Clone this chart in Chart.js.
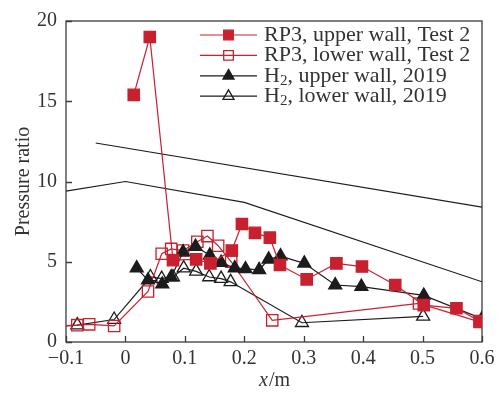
<!DOCTYPE html>
<html>
<head>
<meta charset="utf-8">
<script src="https://cdn.jsdelivr.net/npm/chart.js@4/dist/chart.umd.min.js"></script>
<style>
  html, body { margin: 0; padding: 0; background: #fff; }
  #wrap { width: 502px; height: 394px; }
</style>
</head>
<body>
<div id="wrap"><canvas id="pressureChart" width="502" height="394"></canvas></div>
<script>
// datos
const rp3UpperX = [0.014, 0.041, 0.080, 0.119, 0.143, 0.179, 0.196, 0.218, 0.243, 0.260, 0.305, 0.355, 0.398, 0.454, 0.502, 0.557, 0.596];
const rp3UpperY = [15.4, 19.0, 5.1, 5.15, 4.9, 5.7, 7.35, 6.8, 6.5, 4.8, 3.9, 4.9, 4.7, 3.55, 2.3, 2.1, 1.3];

const rp3LowerX = [-0.12, -0.081, -0.061, -0.019, 0.038, 0.061, 0.077, 0.097, 0.121, 0.138, 0.156, 0.178, 0.247, 0.494, 0.596];
const rp3LowerY = [1.0, 1.05, 1.1, 1.0, 3.15, 5.5, 5.8, 5.7, 6.25, 6.6, 6.0, 5.0, 1.35, 2.4, 1.25];

const h2UpperX = [0.019, 0.038, 0.062, 0.077, 0.097, 0.118, 0.142, 0.161, 0.184, 0.202, 0.225, 0.241, 0.261, 0.301, 0.353, 0.397, 0.502, 0.600];
const h2UpperY = [4.6, 3.85, 3.6, 4.05, 5.6, 5.95, 5.4, 4.95, 4.6, 4.55, 4.5, 5.15, 5.35, 4.9, 3.55, 3.45, 2.9, 1.45];

const h2LowerX = [-0.12, -0.081, -0.019, 0.042, 0.061, 0.080, 0.098, 0.119, 0.141, 0.161, 0.177, 0.297, 0.501];
const h2LowerY = [0.95, 1.05, 1.4, 4.05, 3.95, 4.05, 4.6, 4.4, 4.05, 3.95, 3.75, 1.2, 1.6];

// lineas sin marcadores
const refLineAX = [-0.05, 0.6];
const refLineAY = [12.4, 8.4];
const refLineBX = [-0.1, 0.0, 0.2, 0.6];
const refLineBY = [9.4, 10.0, 8.7, 3.75];

const xTicks = [-0.1, 0, 0.1, 0.2, 0.3, 0.4, 0.5, 0.6];
const yTicks = [0, 5, 10, 15, 20];

const RED = '#c8202e';
const BLACK = '#1c1c1c';
const TEXT = '#333333';
const SERIF = '"Liberation Serif", "DejaVu Serif", serif';

function pts(xs, ys) {
    return xs.map((x, i) => ({ x: x, y: ys[i] }));
}

function series(label, xs, ys, color, style, filled, radius, order) {
    return {
        label: label,
        data: pts(xs, ys),
        showLine: true,
        borderColor: color,
        borderWidth: 1.2,
        pointStyle: style,
        pointRadius: radius,
        pointHoverRadius: radius,
        pointBorderColor: color,
        pointBorderWidth: 1.3,
        pointBackgroundColor: filled ? color : 'rgba(0,0,0,0)',
        order: order,
        legendEntry: true
    };
}

function plainLine(xs, ys) {
    return {
        label: '',
        data: pts(xs, ys),
        showLine: true,
        borderColor: BLACK,
        borderWidth: 1.1,
        pointRadius: 0,
        order: 10
    };
}

function fmtX(v) {
    const r = Math.round(v * 10) / 10;
    if (r === 0) return '0';
    return (r < 0 ? '\u2212' : '') + Math.abs(r).toFixed(1);
}

const framePlugin = {
    id: 'frame',
    beforeDatasetsDraw(chart) {
        const { ctx, chartArea: a, scales } = chart;
        ctx.save();
        ctx.strokeStyle = '#3c3c3c';
        ctx.lineWidth = 1.3;
        ctx.strokeRect(a.left, a.top, a.right - a.left, a.bottom - a.top);
        ctx.beginPath();
        xTicks.forEach(t => {
            const px = Math.round(scales.x.getPixelForValue(t)) + 0.5;
            ctx.moveTo(px, a.bottom);
            ctx.lineTo(px, a.bottom - 6);
        });
        yTicks.forEach(t => {
            const py = Math.round(scales.y.getPixelForValue(t)) + 0.5;
            ctx.moveTo(a.left, py);
            ctx.lineTo(a.left + 6, py);
        });
        ctx.stroke();
        ctx.restore();
    },
    afterDraw(chart) {
        const { ctx, chartArea: a } = chart;
        ctx.save();
        // titulo del eje x: x/m
        ctx.fillStyle = TEXT;
        ctx.textBaseline = 'middle';
        const cx = (a.left + a.right) / 2;
        ctx.font = 'italic 20px ' + SERIF;
        const wx = ctx.measureText('x').width;
        ctx.font = '20px ' + SERIF;
        const wm = ctx.measureText('/m').width;
        let sx = cx - (wx + wm) / 2;
        ctx.font = 'italic 20px ' + SERIF;
        ctx.textAlign = 'left';
        ctx.fillText('x', sx, 381);
        ctx.font = '20px ' + SERIF;
        ctx.fillText('/m', sx + wx + 1, 381);

        // leyenda
        const items = chart.data.datasets.filter(d => d.legendEntry);
        const x0 = 200, x1 = 257, tx = 264;
        items.forEach((d, i) => {
            const y = 35 + i * 20.4;
            ctx.strokeStyle = d.borderColor;
            ctx.lineWidth = d.borderWidth;
            ctx.beginPath();
            ctx.moveTo(x0, y);
            ctx.lineTo(x1, y);
            ctx.stroke();
            ctx.lineWidth = d.pointBorderWidth;
            ctx.strokeStyle = d.pointBorderColor;
            ctx.fillStyle = d.pointBackgroundColor;
            Chart.helpers.drawPoint(ctx, { pointStyle: d.pointStyle, radius: d.pointRadius * 0.85, borderWidth: d.pointBorderWidth }, (x0 + x1) / 2, y);
            ctx.fillStyle = TEXT;
            ctx.textAlign = 'left';
            ctx.textBaseline = 'middle';
            ctx.font = '22px ' + SERIF;
            const lbl = d.label;
            if (lbl.startsWith('H2')) {
                ctx.fillText('H', tx, y);
                const wh = ctx.measureText('H').width;
                ctx.font = '15px ' + SERIF;
                ctx.fillText('2', tx + wh, y + 5);
                const w2 = ctx.measureText('2').width;
                ctx.font = '22px ' + SERIF;
                ctx.fillText(lbl.slice(2), tx + wh + w2, y);
            } else {
                ctx.fillText(lbl, tx, y);
            }
        });
        ctx.restore();
    }
};

const chartConfig = {
    type: 'scatter',
    data: {
        datasets: [
            series('RP3, upper wall, Test 2', rp3UpperX, rp3UpperY, RED, 'rect', true, 8, 1),
            series('RP3, lower wall, Test 2', rp3LowerX, rp3LowerY, RED, 'rect', false, 8, 3),
            series('H2, upper wall, 2019', h2UpperX, h2UpperY, BLACK, 'triangle', true, 7.5, 2),
            series('H2, lower wall, 2019', h2LowerX, h2LowerY, BLACK, 'triangle', false, 7.5, 4),
            plainLine(refLineAX, refLineAY),
            plainLine(refLineBX, refLineBY)
        ]
    },
    options: {
        responsive: false,
        animation: false,
        events: [],
        layout: { padding: { top: 17, right: 20, left: 0, bottom: 0 } },
        plugins: {
            legend: { display: false },
            tooltip: { enabled: false }
        },
        scales: {
            x: {
                type: 'linear',
                min: -0.1,
                max: 0.6,
                afterFit: s => { s.height = 52; },
                afterBuildTicks: s => { s.ticks = xTicks.map(v => ({ value: v })); },
                grid: { display: false, drawTicks: false },
                border: { display: false },
                ticks: {
                    padding: 5,
                    color: TEXT,
                    font: { family: SERIF, size: 20 },
                    callback: v => fmtX(v)
                }
            },
            y: {
                min: 0,
                max: 20,
                afterFit: s => { s.width = 66; },
                afterBuildTicks: s => { s.ticks = yTicks.map(v => ({ value: v })); },
                grid: { display: false, drawTicks: false },
                border: { display: false },
                ticks: {
                    padding: 9,
                    color: TEXT,
                    font: { family: SERIF, size: 20 }
                },
                title: {
                    display: true,
                    text: 'Pressure ratio',
                    color: TEXT,
                    font: { family: SERIF, size: 20 },
                    padding: { top: 12, bottom: 0 }
                }
            }
        }
    },
    plugins: [framePlugin]
};

function initializeChart() {
    const canvas = document.getElementById('pressureChart');
    if (canvas) {
        const ctx = canvas.getContext('2d');
        if (ctx) {
            new Chart(ctx, chartConfig);
        }
    }
}

document.addEventListener('DOMContentLoaded', initializeChart);
</script>
</body>
</html>
